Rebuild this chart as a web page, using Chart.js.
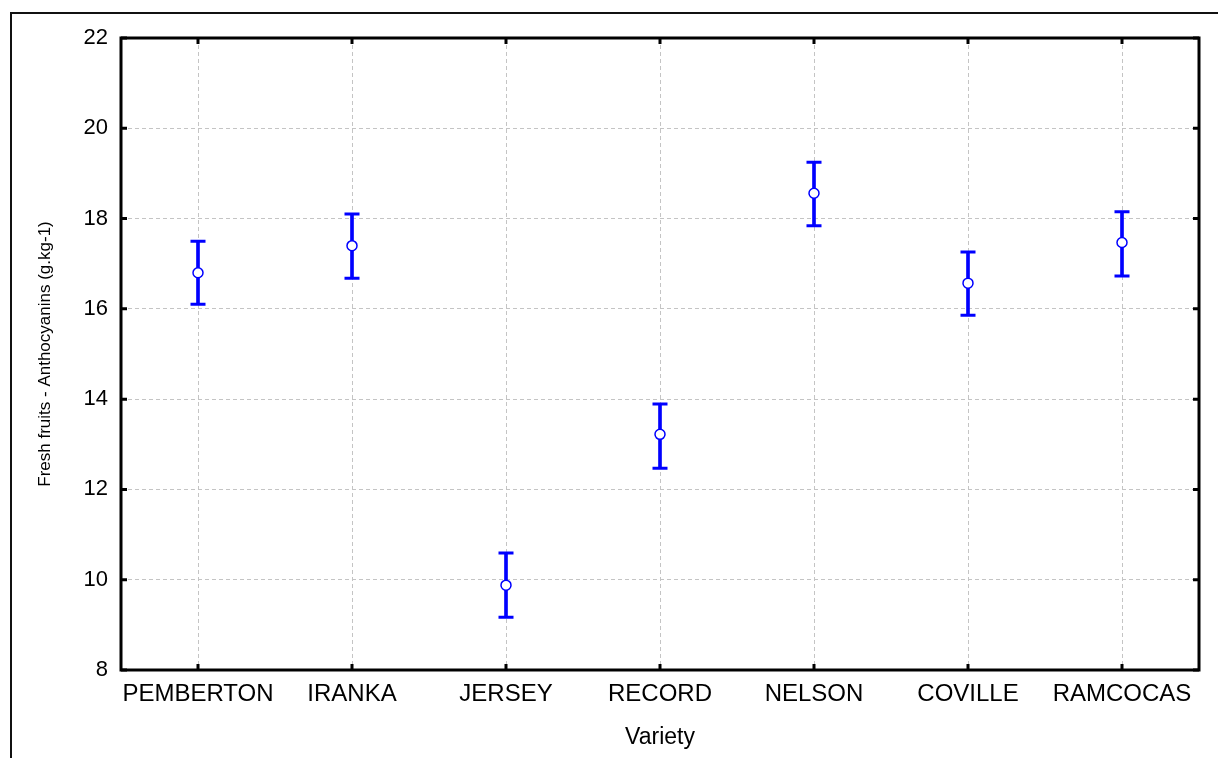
<!DOCTYPE html>
<html>
<head>
<meta charset="utf-8">
<script src="https://cdn.jsdelivr.net/npm/chart.js@4/dist/chart.umd.min.js"></script>
<style>
  html, body { margin: 0; padding: 0; background: #fff; }
  #grafico { display: block; }
</style>
</head>
<body>
<canvas id="grafico" width="1218" height="758"></canvas>
<script>
// datos
const variedades = ["PEMBERTON", "IRANKA", "JERSEY", "RECORD", "NELSON", "COVILLE", "RAMCOCAS"];
const medias = [16.8, 17.4, 9.88, 13.22, 18.56, 16.57, 17.47];
const limiteInf = [16.1, 16.68, 9.17, 12.47, 17.84, 15.86, 16.73];
const limiteSup = [17.5, 18.1, 10.59, 13.89, 19.25, 17.26, 18.15];
const ticksY = [8, 10, 12, 14, 16, 18, 20, 22];

const azul = "#0000ff";
const fuente = "'Liberation Sans', Arial, sans-serif";

Chart.defaults.color = "#000";
Chart.defaults.font.family = fuente;

// marco exterior, caja del grafico y marcas de los ejes hacia dentro
const marcoPlugin = {
    id: "marco",
    beforeDraw(chart) {
        const ctx = chart.ctx;
        ctx.save();
        ctx.fillStyle = "#fff";
        ctx.fillRect(0, 0, chart.width, chart.height);
        ctx.strokeStyle = "#111";
        ctx.lineWidth = 2;
        ctx.beginPath();
        ctx.moveTo(11, chart.height + 5);
        ctx.lineTo(11, 13);
        ctx.lineTo(chart.width + 5, 13);
        ctx.stroke();
        ctx.restore();
    },
    afterDatasetsDraw(chart) {
        const ctx = chart.ctx;
        const area = chart.chartArea;
        const ejeX = chart.scales.x;
        const ejeY = chart.scales.y;
        ctx.save();
        ctx.strokeStyle = "#000";
        ctx.lineWidth = 3;
        ctx.strokeRect(area.left, area.top, area.right - area.left, area.bottom - area.top);

        ctx.beginPath();
        for (const t of ejeY.ticks) {
            let y = ejeY.getPixelForValue(t.value);
            ctx.moveTo(area.left, y);
            ctx.lineTo(area.left + 6, y);
            ctx.moveTo(area.right, y);
            ctx.lineTo(area.right - 6, y);
        }
        for (let i = 0; i < variedades.length; i++) {
            let x = ejeX.getPixelForValue(i);
            ctx.moveTo(x, area.top);
            ctx.lineTo(x, area.top + 6);
            ctx.moveTo(x, area.bottom);
            ctx.lineTo(x, area.bottom - 6);
        }
        ctx.stroke();
        ctx.restore();
    }
};

const rangos = variedades.map((v, i) => [limiteInf[i], limiteSup[i]]);

const datasets = [
    {
        type: "line",
        label: "media",
        data: medias,
        showLine: false,
        pointStyle: "circle",
        pointRadius: 5,
        pointBackgroundColor: "#fff",
        pointBorderColor: azul,
        pointBorderWidth: 1.5,
        order: 0
    },
    {
        type: "line",
        label: "sup",
        data: limiteSup,
        showLine: false,
        pointStyle: "line",
        pointRadius: 7.5,
        pointBorderColor: azul,
        borderColor: azul,
        pointBorderWidth: 3,
        order: 1
    },
    {
        type: "line",
        label: "inf",
        data: limiteInf,
        showLine: false,
        pointStyle: "line",
        pointRadius: 7.5,
        pointBorderColor: azul,
        borderColor: azul,
        pointBorderWidth: 3,
        order: 1
    },
    {
        type: "bar",
        label: "error",
        data: rangos,
        backgroundColor: azul,
        borderWidth: 0,
        barThickness: 3,
        order: 2
    }
];

const conf = {
    type: "bar",
    data: {
        labels: variedades,
        datasets
    },
    options: {
        responsive: false,
        animation: false,
        devicePixelRatio: 1,
        layout: {
            padding: { left: 0, top: 38, right: 19, bottom: 0 }
        },
        plugins: {
            legend: { display: false },
            tooltip: { enabled: false }
        },
        scales: {
            x: {
                offset: true,
                grid: {
                    offset: false,
                    color: "#c4c4c4",
                    lineWidth: 1,
                    drawTicks: false
                },
                border: { display: false, dash: [4, 3] },
                ticks: {
                    font: { size: 24 },
                    padding: 10,
                    maxRotation: 0,
                    autoSkip: false
                },
                title: {
                    display: true,
                    text: "Variety",
                    font: { size: 23 },
                    padding: { top: 0, bottom: 7 }
                },
                afterFit(scale) {
                    scale.height = 88;
                }
            },
            y: {
                min: 8,
                max: 22,
                grid: {
                    color: "#c4c4c4",
                    lineWidth: 1,
                    drawTicks: false
                },
                border: { display: false, dash: [4, 3] },
                ticks: {
                    stepSize: 2,
                    font: { size: 22 },
                    padding: 13
                },
                afterBuildTicks(scale) {
                    scale.ticks = ticksY.map(v => ({ value: v }));
                },
                title: {
                    display: true,
                    text: "Fresh fruits - Anthocyanins (g.kg-1)",
                    font: { size: 17 },
                    padding: { top: 35, bottom: 0 }
                },
                afterFit(scale) {
                    scale.width = 121;
                }
            }
        }
    },
    plugins: [marcoPlugin]
};

let grafico = new Chart(document.querySelector("#grafico"), conf);
</script>
</body>
</html>
